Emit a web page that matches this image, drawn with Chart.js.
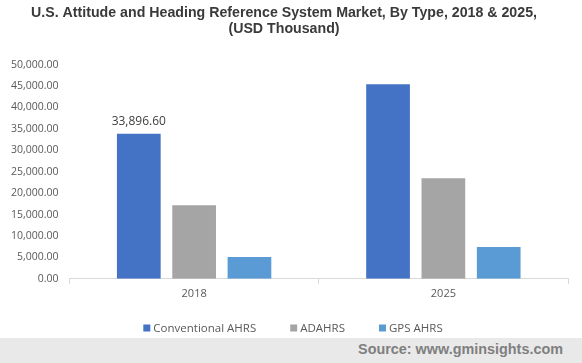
<!DOCTYPE html>
<html>
<head>
<meta charset="utf-8">
<script src="https://cdn.jsdelivr.net/npm/chart.js@4.4.0/dist/chart.umd.min.js"></script>
<style>
    html, body { margin: 0; padding: 0; background: #fff; }
    #wrap { width: 582px; height: 363px; position: relative; overflow: hidden; }
    #chart-box { width: 582px; height: 338px; position: relative; }
    #footer { width: 582px; height: 25px; background: #e9e9e9; position: relative; }
    #footer span { position: absolute; right: 19px; top: 3px; font: bold 14.4px "Liberation Sans", Arial, sans-serif; color: #7f7f7f; }
</style>
</head>
<body>
<div id="wrap">
    <div id="chart-box"><canvas id="chart"></canvas></div>
    <div id="footer"><span>Source: www.gminsights.com</span></div>
</div>
<script>
const years = ['2018', '2025'];
const seriesNames = ['Conventional AHRS', 'ADAHRS', 'GPS AHRS'];
const conventionalAhrs = [33896.6, 45400];
const adahrs = [17200, 23500];
const gpsAhrs = [5100, 7400];
const yTicks = [0, 5000, 10000, 15000, 20000, 25000, 30000, 35000, 40000, 45000, 50000];

const seriesColors = ['#4472c4', '#a5a5a5', '#5b9bd5'];
const labelFont = '"Open Sans", "Liberation Sans", sans-serif';

function fmt(v) {
    return v.toLocaleString('en-US', { minimumFractionDigits: 2, maximumFractionDigits: 2 });
}

// only the first bar carries a value label in the original
const firstBarLabel = {
    id: 'firstBarLabel',
    afterDatasetsDraw(chart) {
        const bar = chart.getDatasetMeta(0).data[0];
        const ctx = chart.ctx;
        ctx.save();
        ctx.font = '12px ' + labelFont;
        ctx.fillStyle = '#404040';
        ctx.textAlign = 'center';
        ctx.textBaseline = 'bottom';
        ctx.fillText(fmt(conventionalAhrs[0]), bar.x, bar.y - 6);
        ctx.restore();
    }
};

// bottom legend, drawn by hand so its spacing can match the original
const bottomLegend = {
    id: 'bottomLegend',
    afterDraw(chart) {
        const ctx = chart.ctx;
        const y = 328, box = 7, gapText = 3, gapItem = 34;
        ctx.save();
        ctx.font = '11.5px ' + labelFont;
        const widths = chart.data.datasets.map(d => ctx.measureText(d.label).width);
        const total = widths.reduce((a, w) => a + box + gapText + w, 0) + gapItem * (widths.length - 1);
        let x = (chart.width - total) / 2 + 2;
        chart.data.datasets.forEach((d, i) => {
            ctx.fillStyle = d.backgroundColor;
            ctx.fillRect(x, y - box / 2, box, box);
            x += box + gapText;
            ctx.fillStyle = '#595959';
            ctx.textBaseline = 'middle';
            ctx.fillText(d.label, x, y + 1);
            x += widths[i] + gapItem;
        });
        ctx.restore();
    }
};

const datasets = [conventionalAhrs, adahrs, gpsAhrs].map((vals, i) => ({
    label: seriesNames[i],
    data: vals,
    backgroundColor: seriesColors[i],
    categoryPercentage: 0.666,
    barPercentage: 0.79
}));

new Chart(document.getElementById('chart'), {
    type: 'bar',
    data: { labels: years, datasets: datasets },
    plugins: [firstBarLabel, bottomLegend],
    options: {
        responsive: true, maintainAspectRatio: false,
        animation: false,
        layout: { padding: { left: 0, right: 14, top: 0, bottom: 35 } },
        plugins: {
            title: {
                display: true,
                text: ['U.S. Attitude and Heading Reference System Market, By Type, 2018 & 2025,', '(USD Thousand)'],
                color: '#3a3a3a',
                font: { family: '"Liberation Sans", Arial, sans-serif', size: 14.2, weight: 'bold', lineHeight: 1.15 },
                padding: { top: 5, bottom: 27 }
            },
            legend: { display: false },
            tooltip: { enabled: false }
        },
        scales: {
            x: {
                grid: { display: true, drawOnChartArea: false, color: '#d9d9d9', tickLength: 5, offset: true },
                border: { color: '#d9d9d9' },
                ticks: { color: '#595959', font: { family: labelFont, size: 11 } }
            },
            y: {
                min: 0, max: 50000,
                afterBuildTicks(axis) { axis.ticks = yTicks.map(v => ({ value: v })); },
                grid: { display: false, drawTicks: false },
                border: { display: false },
                ticks: {
                    color: '#595959', padding: 11,
                    font: { family: labelFont, size: 10.5 },
                    callback: v => fmt(v)
                }
            }
        }
    }
});
</script>
</body>
</html>
